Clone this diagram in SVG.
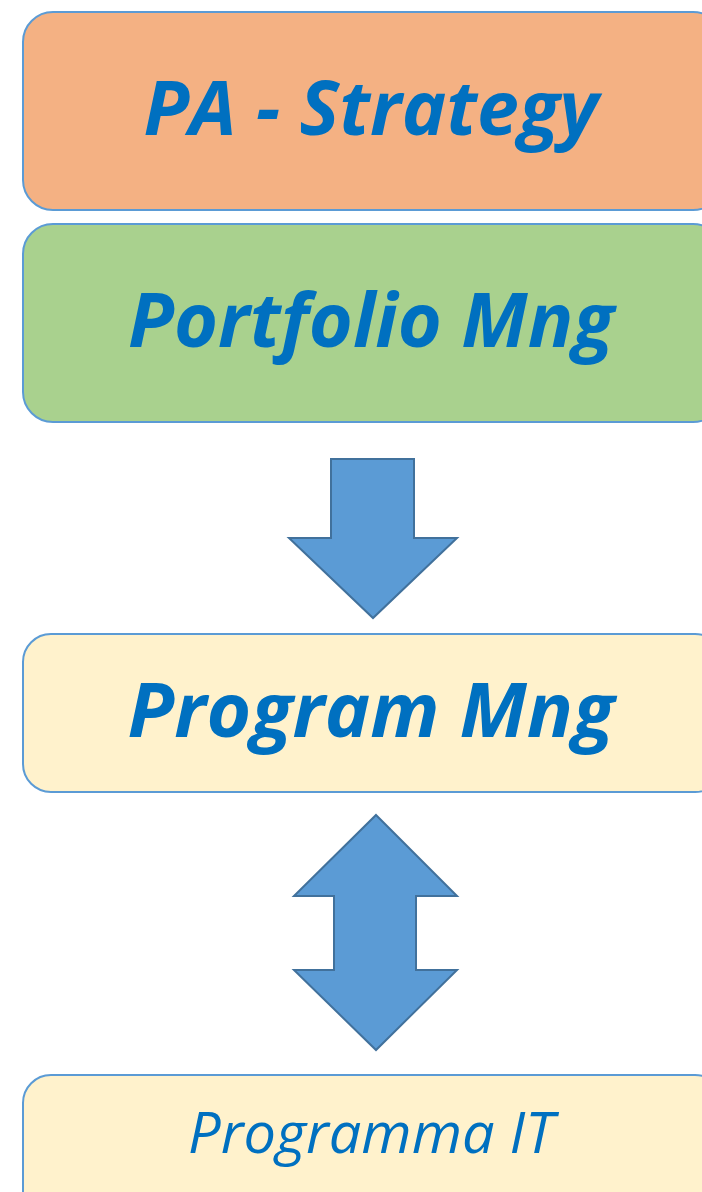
<svg xmlns="http://www.w3.org/2000/svg" width="702" height="1192" viewBox="0 0 702 1192">
<style>
.box{stroke:#5B9BD5;stroke-width:2}
.t{font-family:"Open Sans","Noto Sans","Liberation Sans",sans-serif;font-style:italic;fill:#0070C0;text-anchor:middle}
.b{font-weight:bold;font-size:76px}
.arrow{fill:#5B9BD5;stroke:#41719C;stroke-width:2;stroke-linejoin:miter}
</style>
<rect width="702" height="1192" fill="#FFFFFF"/>
<g id="pa-strategy">
<rect class="box" x="23" y="12" width="700" height="198" rx="30" fill="#F4B183"/>
<text class="t b" x="371" y="135" textLength="455" lengthAdjust="spacingAndGlyphs">PA - Strategy</text>
</g>
<g id="portfolio-mng">
<rect class="box" x="23" y="224" width="700" height="198" rx="30" fill="#A9D18E"/>
<text class="t b" x="371" y="347" textLength="486" lengthAdjust="spacingAndGlyphs">Portfolio Mng</text>
</g>
<g id="program-mng">
<rect class="box" x="23" y="634" width="700" height="158" rx="28" fill="#FFF2CC"/>
<text class="t b" x="371" y="737" textLength="487" lengthAdjust="spacingAndGlyphs">Program Mng</text>
</g>
<g id="programma-it">
<rect class="box" x="23" y="1075" width="700" height="150" rx="28" fill="#FFF2CC"/>
<text class="t" x="371" y="1153" font-size="56" textLength="366" lengthAdjust="spacingAndGlyphs">Programma IT</text>
</g>
<g id="connectors">
<polygon class="arrow" points="331,459 414,459 414,538 457,538 373,618 289,538 331,538"/>
<polygon class="arrow" points="376,815 457,896 416,896 416,970 457,970 376,1050 294,970 334,970 334,896 294,896"/>
</g>
</svg>
